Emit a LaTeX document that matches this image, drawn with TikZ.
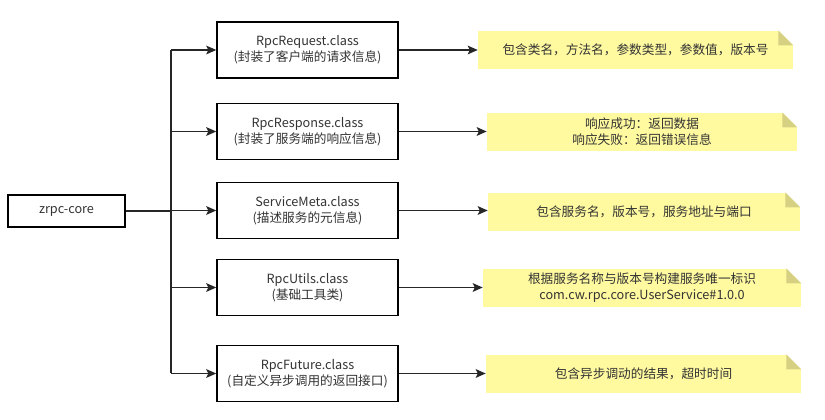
\documentclass[tikz,border=0pt]{standalone}
\usepackage{fontspec}
\setmainfont{Noto Sans CJK SC}
\usetikzlibrary{arrows.meta}

\definecolor{txtgray}{RGB}{51,51,51}
\definecolor{noteyellow}{RGB}{255,250,160}
\definecolor{notefold}{RGB}{214,208,130}

% folded corner of a note node
\newcommand{\foldcorner}[1]{%
  \fill[white] (#1.north east) -- ++(-15,0) -- ++(15,15) -- cycle;
  \fill[notefold] (#1.north east) ++(-15,0) -- ++(0,15) -- ++(15,0) -- cycle;}

\begin{document}
\begin{tikzpicture}[x=0.75pt,y=0.75pt,yscale=-1,xscale=1,
  every node/.style={font=\fontsize{9.5}{12}\selectfont, text=txtgray, align=center},
  classbox/.style={draw=black, line width=1.1pt, fill=white, minimum width=135.75pt, minimum height=42pt, inner sep=0pt},
  corebox/.style={draw=black, line width=1.1pt, minimum width=87.75pt, minimum height=24pt, inner sep=0pt},
  notebox/.style={fill=noteyellow, minimum height=29pt, inner sep=0pt},
  link/.style={draw=black!85, line width=1.1pt, -{Stealth[length=7.5pt,width=6.5pt,inset=1.5pt]}},
  trunkline/.style={draw=black!85, line width=1.1pt}]
\useasboundingbox (0,0) rectangle (825,420);

% Core
\node[corebox] (core) at (66.5,211) {zrpc-core};
\coordinate (trunk) at (171,211);

% Class boxes
\node[classbox] (req) at (307.5,50) {RpcRequest.class\\(封装了客户端的请求信息)};
\node[classbox] (resp) at (307.5,131.5) {RpcResponse.class\\(封装了服务端的响应信息)};
\node[classbox] (meta) at (307.5,210.5) {ServiceMeta.class\\(描述服务的元信息)};
\node[classbox] (utils) at (307.5,287.5) {RpcUtils.class\\(基础工具类)};
\node[classbox] (future) at (307.5,373.5) {RpcFuture.class\\(自定义异步调用的返回接口)};

% Notes
\node[notebox, minimum width=236.25pt] (reqnote) at (635.5,50) {包含类名，方法名，参数类型，参数值，版本号};
\node[notebox, minimum width=232.5pt] (respnote) at (642,132) {响应成功：返回数据\\响应失败：返回错误信息};
\node[notebox, minimum width=234pt] (metanote) at (644,212) {包含服务名，版本号，服务地址与端口};
\node[notebox, minimum width=238.5pt] (utilsnote) at (642,288) {根据服务名称与版本号构建服务唯一标识\\com.cw.rpc.core.UserService\#1.0.0};
\node[notebox, minimum width=236.25pt] (futurenote) at (643.5,374) {包含异步调动的结果，超时时间};
\foldcorner{reqnote}
\foldcorner{respnote}
\foldcorner{metanote}
\foldcorner{utilsnote}
\foldcorner{futurenote}

% Core to classes
\draw[trunkline] (core.east) -- (trunk);
\draw[trunkline] (trunk |- req.west) -- (trunk |- future.west);
\foreach \cls in {req,resp,meta,utils,future}
  \draw[link] (trunk |- \cls.west) -- (\cls.west);

% Classes to notes
\foreach \cls in {req,resp,meta,utils,future}
  \draw[link] (\cls.east) -- (\cls.east -| \cls note.west);

\end{tikzpicture}
\end{document}
